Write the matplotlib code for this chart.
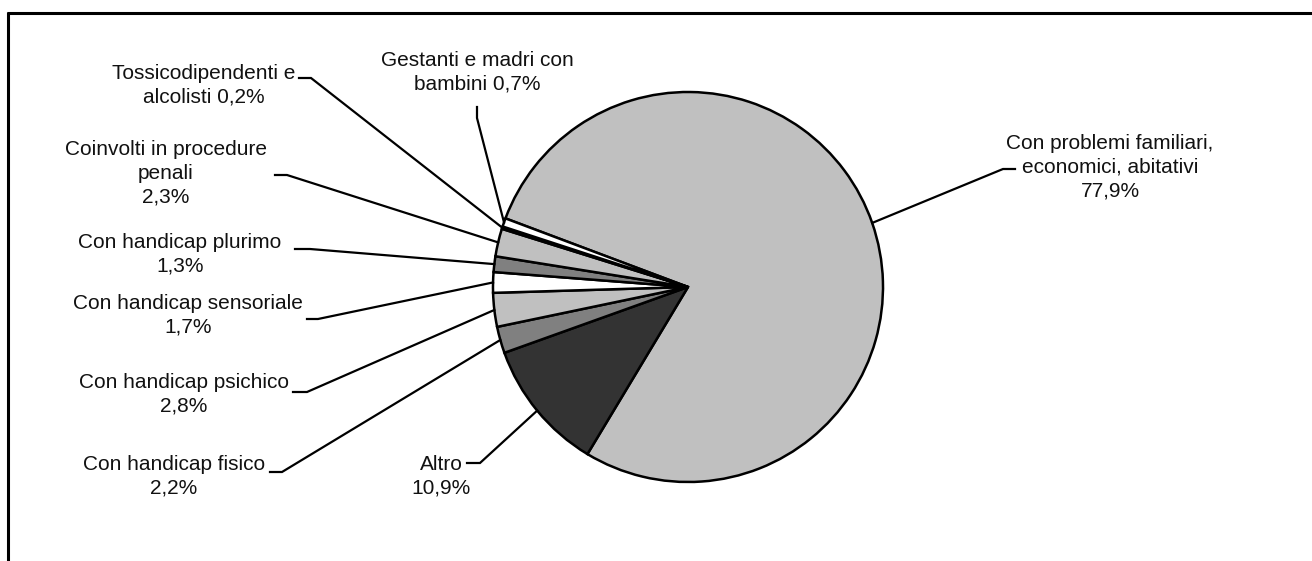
import matplotlib
matplotlib.use("Agg")
import matplotlib.pyplot as plt
import numpy as np

# ---- data ----
categories = [
    "Con problemi familiari,\neconomici, abitativi",
    "Altro",
    "Con handicap fisico",
    "Con handicap psichico",
    "Con handicap sensoriale",
    "Con handicap plurimo",
    "Coinvolti in procedure\npenali",
    "Tossicodipendenti e\nalcolisti",
    "Gestanti e madri con\nbambini",
]
values = [77.9, 10.9, 2.2, 2.8, 1.7, 1.3, 2.3, 0.2, 0.7]
pct_sep = ["\n", "\n", "\n", "\n", "\n", "\n", "\n", " ", " "]
colors = ["#C0C0C0", "#333333", "#808080", "#C0C0C0", "#FFFFFF",
          "#808080", "#C0C0C0", "#333333", "#FFFFFF"]

# ---- layout (pixels) ----
W, H = 1312, 561
CX, CY, R = 688, 287, 195
START = 159.4
label_pos = [(1110, 167), (441, 476), (174, 476), (184, 394), (188, 315),
             (180, 254), (166, 173), (204, 85), (477, 72)]
elbow = [(1003, 169), (480, 463), (282, 472), (307, 392), (318, 319),
         (310, 249), (287, 175), (311, 78), (477, 118)]
tick_end = [(1015, 169), (467, 463), (270, 472), (293, 392), (307, 319),
            (295, 249), (275, 175), (299, 78), (477, 107)]

plt.rcParams['font.family'] = ['Liberation Sans', 'DejaVu Sans']
fig = plt.figure(figsize=(W / 100, H / 100), dpi=100)

# pie axes
ax = fig.add_axes([(CX - R) / W, (H - CY - R) / H, 2 * R / W, 2 * R / H])
wedges, _ = ax.pie(values, colors=colors, startangle=START, counterclock=False,
                   radius=1, wedgeprops=dict(edgecolor="black", linewidth=1.8))
ax.set_xlim(-1, 1)
ax.set_ylim(-1, 1)
ax.set_axis_off()

# overlay axes in pixel coordinates
ov = fig.add_axes([0, 0, 1, 1], facecolor="none")
ov.set_xlim(0, W)
ov.set_ylim(H, 0)
ov.set_axis_off()

# frame (top and left edges visible)
ov.plot([7, W], [13, 13], color="black", lw=2.2, solid_capstyle="butt")
ov.plot([8, 8], [12, H], color="black", lw=2.2, solid_capstyle="butt")

for i, w in enumerate(wedges):
    mid = np.deg2rad((w.theta1 + w.theta2) / 2)
    disp = ax.transData.transform((np.cos(mid), np.sin(mid)))
    px, py = ov.transData.inverted().transform(disp)
    ex, ey = elbow[i]
    tx, ty = tick_end[i]
    ov.plot([px, ex, tx], [py, ey, ty], color="black", lw=1.6,
            solid_joinstyle="miter")
    pct = f"{values[i]:.1f}".replace(".", ",") + "%"
    txt = f"{categories[i]}{pct_sep[i]}{pct}"
    lx, ly = label_pos[i]
    ov.text(lx, ly, txt, ha="center", va="center", multialignment="center",
            fontsize=15, linespacing=1.3, color="#111111")

fig.savefig("out.png", dpi=100)
